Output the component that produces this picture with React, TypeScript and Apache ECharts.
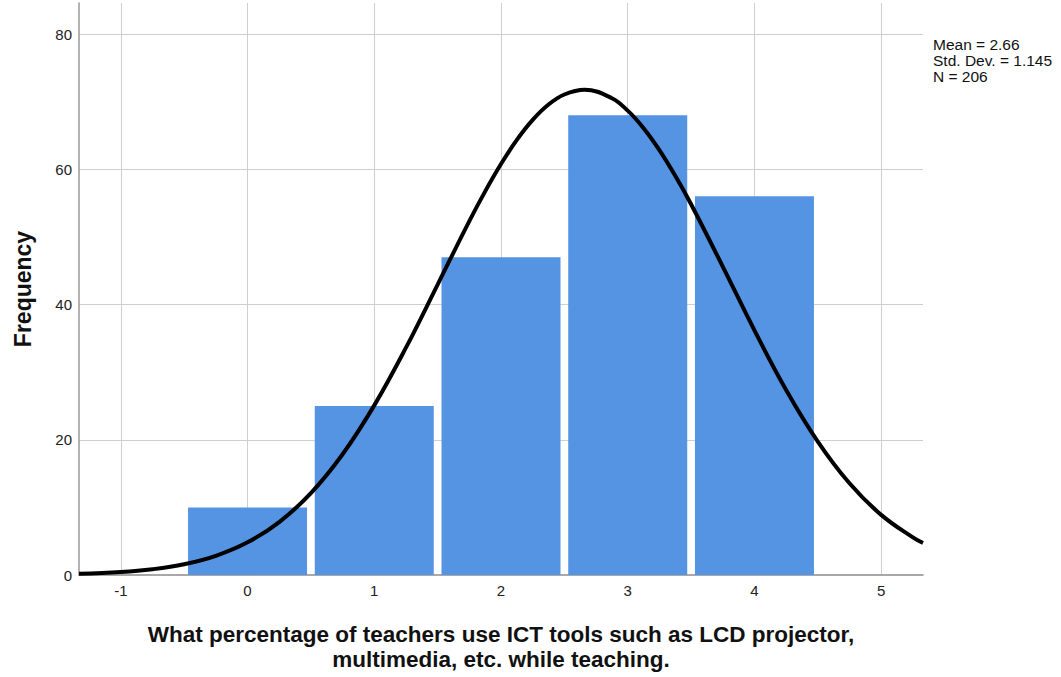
import React, { useEffect, useRef } from "react";
import * as echarts from "echarts";

const binCenters = [0, 1, 2, 3, 4];
const frequencies = [10, 25, 47, 68, 56];
const curveX = [-1.33, -1, -0.75, -0.5, -0.25, 0, 0.25, 0.5, 0.75, 1, 1.25, 1.5, 1.75, 1.875, 2, 2.125, 2.25, 2.375, 2.5, 2.66, 2.875, 3, 3.125, 3.25, 3.375, 3.5, 3.75, 4, 4.25, 4.5, 4.75, 5, 5.25, 5.33];
const curveY = [0.17, 0.43, 0.85, 1.59, 2.84, 4.83, 7.83, 12.11, 17.86, 25.09, 33.62, 42.96, 52.34, 56.74, 60.78, 64.35, 67.31, 69.58, 71.07, 71.77, 70.52, 68.68, 66.09, 62.85, 59.05, 54.84, 45.62, 36.19, 27.37, 19.74, 13.57, 8.89, 5.56, 4.73];
const statsLines = ["Mean = 2.66", "Std. Dev. = 1.145", "N = 206"];
const xTitle = "What percentage of teachers use ICT tools such as LCD projector,\nmultimedia, etc. while teaching.";
const yTitle = "Frequency";

const FONT = "'Liberation Sans', Arial, sans-serif";

export default function App() {
  const ref = useRef<HTMLDivElement>(null);
  useEffect(() => {
    if (!ref.current) return;
    const chart = echarts.init(ref.current, null, { renderer: "svg" });
    chart.setOption({
      animation: false,
      backgroundColor: "#ffffff",
      textStyle: { fontFamily: FONT },
      grid: { left: 79, right: 138, top: 3, bottom: 101, containLabel: false },
      xAxis: {
        type: "value",
        min: -1.33,
        max: 5.33,
        splitNumber: 7,
        minInterval: 1,
        maxInterval: 1,
        axisLine: { show: true, onZero: false, lineStyle: { color: "#8c8c8c", width: 1.5 } },
        axisTick: { show: false },
        axisLabel: { color: "#222", fontSize: 15, margin: 8, fontFamily: FONT, showMinLabel: false, showMaxLabel: false },
        splitLine: { show: true, showMinLine: false, showMaxLine: false, lineStyle: { color: "#cfcfcf", width: 1 } },
        name: xTitle,
        nameLocation: "middle",
        nameGap: 47,
        nameTextStyle: { fontSize: 22.5, fontWeight: "bold", color: "#111", lineHeight: 25, fontFamily: FONT },
      },
      yAxis: {
        type: "value",
        min: 0,
        max: 84.6,
        interval: 20,
        axisLine: { show: true, onZero: false, lineStyle: { color: "#9a9a9a", width: 1.5 } },
        axisTick: { show: false },
        axisLabel: { color: "#222", fontSize: 15, margin: 7, fontFamily: FONT, showMaxLabel: false },
        splitLine: { show: true, showMinLine: false, showMaxLine: false, lineStyle: { color: "#cfcfcf", width: 1 } },
        name: yTitle,
        nameLocation: "middle",
        nameGap: 45,
        nameTextStyle: { fontSize: 23, fontWeight: "bold", color: "#111", fontFamily: FONT },
      },
      series: [
        {
          type: "bar",
          data: binCenters.map((c, i) => [c, frequencies[i]]),
          barWidth: 119,
          itemStyle: { color: "#5593e3" },
          z: 2,
        },
        {
          type: "line",
          data: curveX.map((x, i) => [x, curveY[i]]),
          smooth: 0.4,
          showSymbol: false,
          lineStyle: { color: "#000", width: 4 },
          z: 3,
        },
      ],
      graphic: [
        {
          type: "text",
          left: 933,
          top: 36,
          style: {
            text: statsLines.join("\n"),
            font: `15.5px ${FONT}`,
            lineHeight: 16,
            fill: "#111",
          },
        },
      ],
    });
    return () => chart.dispose();
  }, []);
  return <div ref={ref} style={{ width: 1061, height: 677, position: "absolute", left: 0, top: 0 }} />;
}
